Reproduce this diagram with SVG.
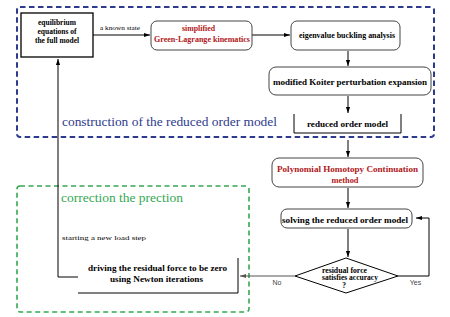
<svg xmlns="http://www.w3.org/2000/svg" width="450" height="317" viewBox="0 0 450 317">
<style>
.bg{fill:#fff}
.blue{fill:none;stroke:#2e3a8c;stroke-width:2;stroke-dasharray:5.5 3.5}
.green{fill:none;stroke:#34a853;stroke-width:1.6;stroke-dasharray:5 3.5}
.box{fill:#fff;stroke:#000;stroke-width:1.3}
.rbox{fill:#fff;stroke:#444;stroke-width:1}
.ln{fill:none;stroke:#000;stroke-width:1}
.gl{fill:none;stroke:#555;stroke-width:1}
.t{font-family:"Liberation Serif","Times New Roman",serif;font-weight:bold;font-size:7.5px;fill:#000;text-anchor:middle}
.r{fill:#b01820}
.n{font-family:"Liberation Serif","Times New Roman",serif;font-size:6.5px;fill:#000}
.s{font-family:"Liberation Sans",Arial,sans-serif;font-size:7px;fill:#444;text-anchor:middle}
.big{font-family:"Liberation Serif","Times New Roman",serif;font-size:12.5px}
</style>
<defs>
<marker id="ah" viewBox="0 0 10 10" refX="10" refY="5" markerWidth="6" markerHeight="6" markerUnits="userSpaceOnUse" orient="auto">
<path d="M0,1.5 L10,5 L0,8.5 Z" fill="#000"/>
</marker>
<marker id="ahg" viewBox="0 0 10 10" refX="10" refY="5" markerWidth="6" markerHeight="6" markerUnits="userSpaceOnUse" orient="auto">
<path d="M0,1.5 L10,5 L0,8.5 Z" fill="#555"/>
</marker>
</defs>
<rect class="bg" x="0" y="0" width="450" height="317"/>

<g id="group-construction">
<rect class="blue" x="17" y="7" width="417" height="130" rx="3"/>
<text class="big" x="62" y="126" fill="#2e3a8c" textLength="215" lengthAdjust="spacingAndGlyphs">construction of the reduced order model</text>
</g>
<g id="group-correction">
<rect class="green" x="17" y="186" width="232" height="126" rx="3"/>
<text class="big" x="61" y="202" fill="#34a853" textLength="122" lengthAdjust="spacingAndGlyphs">correction the prection</text>
</g>

<g id="connectors">
<line class="ln" x1="93" y1="35" x2="150" y2="35" marker-end="url(#ah)"/>
<text class="n" x="100" y="30" textLength="40" lengthAdjust="spacingAndGlyphs">a known state</text>
<line class="ln" x1="252" y1="35" x2="290" y2="35" marker-end="url(#ah)"/>
<line class="ln" x1="348" y1="51" x2="348" y2="66" marker-end="url(#ah)"/>
<line class="ln" x1="348" y1="96" x2="348" y2="113" marker-end="url(#ah)"/>
<line class="ln" x1="348" y1="140" x2="348" y2="157" marker-end="url(#ah)"/>
<line class="ln" x1="348" y1="188" x2="348" y2="208" marker-end="url(#ah)"/>
<line class="ln" x1="348" y1="229" x2="348" y2="257" marker-end="url(#ah)"/>
<polyline class="ln" points="398,276 429,276 429,218 416,218" marker-end="url(#ah)"/>
<text class="s" x="415.5" y="285">Yes</text>
<line class="gl" x1="295" y1="276" x2="240" y2="276" marker-end="url(#ahg)"/>
<text class="s" x="277" y="285">No</text>
<polyline class="ln" points="78,277 58,277 58,59" marker-end="url(#ah)"/>
<text class="n" x="62" y="240" textLength="84" lengthAdjust="spacingAndGlyphs">starting a new load  step</text>
</g>

<g id="node-equilibrium">
<rect class="box" x="21" y="13" width="72" height="44"/>
<text class="t" x="57" y="25" font-size="8">equilibrium</text>
<text class="t" x="57" y="34" font-size="8">equations of</text>
<text class="t" x="57" y="43" font-size="8">the full model</text>
</g>
<g id="node-simplified">
<rect class="rbox" x="151" y="21" width="101" height="29" rx="6"/>
<text class="t r" x="198.5" y="31" textLength="33" lengthAdjust="spacingAndGlyphs">simplified</text>
<text class="t r" x="202" y="42" textLength="96" lengthAdjust="spacingAndGlyphs">Green-Lagrange kinematics</text>
</g>
<g id="node-eigenvalue">
<rect class="rbox" x="291" y="21" width="109" height="29" rx="6"/>
<text class="t" x="347" y="37.5" textLength="96" lengthAdjust="spacingAndGlyphs">eigenvalue buckling analysis</text>
</g>
<g id="node-koiter">
<rect class="rbox" x="269" y="67" width="162" height="28" rx="7"/>
<text class="t" x="350" y="85" textLength="154" lengthAdjust="spacingAndGlyphs">modified Koiter perturbation expansion</text>
</g>
<g id="node-reduced">
<polyline class="ln" points="294,114 294,133 401,133 401,114"/>
<text class="t" x="347.5" y="126.5" textLength="81" lengthAdjust="spacingAndGlyphs">reduced order model</text>
</g>
<g id="node-polynomial">
<rect class="rbox" x="272" y="158" width="151" height="29" rx="7"/>
<text class="t r" x="347.5" y="172" textLength="141" lengthAdjust="spacingAndGlyphs">Polynomial Homotopy Continuation</text>
<text class="t r" x="345" y="183" textLength="27" lengthAdjust="spacingAndGlyphs">method</text>
</g>
<g id="node-solving">
<rect class="rbox" x="281" y="209" width="131" height="19" rx="6"/>
<text class="t" x="345" y="223" textLength="126" lengthAdjust="spacingAndGlyphs">solving the reduced order model</text>
</g>
<g id="node-decision">
<polygon class="ln" points="346,258 398,276 346,293 295,276" fill="#fff"/>
<text class="t" x="344.5" y="272.5" font-size="6.5" textLength="45" lengthAdjust="spacingAndGlyphs">residual force</text>
<text class="t" x="350" y="280" font-size="6.5" textLength="56" lengthAdjust="spacingAndGlyphs">satisfies accuracy</text>
<text class="t" x="344" y="288" font-size="6.5">?</text>
</g>
<g id="node-driving">
<polyline class="ln" points="78,293 238,293 238,258"/>
<text class="t" x="157.5" y="271" textLength="139" lengthAdjust="spacingAndGlyphs">driving the residual force to be zero</text>
<text class="t" x="156.5" y="281.5" textLength="93" lengthAdjust="spacingAndGlyphs">using Newton iterations</text>
</g>
</svg>
